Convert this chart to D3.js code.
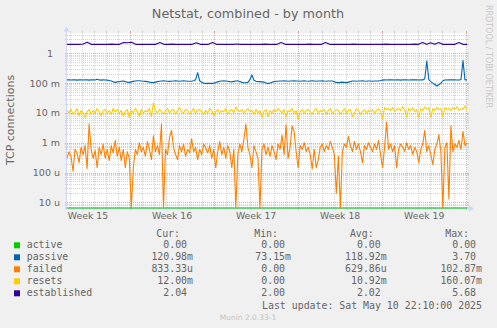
<!DOCTYPE html>
<html><head><meta charset="utf-8">
<script src="https://cdn.jsdelivr.net/npm/d3@7"></script>
<style>
body{margin:0;background:#f0f0f0}
svg{display:block}
text{font-family:"DejaVu Sans",sans-serif}
.mono{font-family:"DejaVu Sans Mono",monospace}
</style>
</head><body><svg id="c" width="497" height="328"></svg>
<script>
// ---------------- data ----------------
const chartTitle = "Netstat, combined - by month";
const yAxisTitle = "TCP connections";
const seriesNames = ["active", "passive", "failed", "resets", "established"];
const seriesColors = ["#00CC00", "#0066B3", "#FF8000", "#FFCC00", "#330099"];
const timeStart = "2025-04-08T18:05:00Z";
const timeEnd = "2025-05-12T01:31:00Z";

// active (units)
const active = [0,0,0,0,0,0,0,0,0,0,0,0,0,0,0,0,0,0,0,0,0,0,0,0,0,0,0,0,0,0,0,0,0,0];
// passive (milli)
const passiveMilli = [
128,128,127,128,128,126,128,128,127,128,
128,126,128,128,127,134,128,126,128,127,
126,122,118,110,106,110,112,116,118,112,
108,106,110,114,118,120,120,118,116,114,
112,108,106,104,108,112,116,118,120,118,
116,114,116,118,120,118,116,118,120,118,
116,115,116,120,130,223,120,106,100,98,
98,98,98,100,104,110,116,118,120,118,
116,112,110,114,118,120,112,106,103,103,
106,130,188,125,115,112,112,110,108,100,
98,100,106,112,115,116,118,117,119,118,
116,117,118,120,118,117,116,118,119,117,
116,118,120,118,116,117,118,119,117,116,
118,117,118,110,106,104,106,108,106,104,
108,112,117,118,116,117,118,119,117,116,
118,117,116,118,117,119,122,126,128,127,
128,129,128,127,128,128,126,128,129,128,
127,128,128,129,128,127,128,128,140,550,
130,112,100,90,80,88,100,120,128,127,
128,128,129,128,127,128,130,570,128,128];
// failed (micro)
const failedMicro = [
300,500,350,110,600,450,213,700,400,800,
135,4300,600,300,550,145,700,400,900,300,
600,250,800,450,1200,350,700,250,600,145,
500,300,0,145,600,400,1000,500,700,350,
1100,600,270,1720,500,800,400,4300,0,600,
400,1500,2600,700,400,270,800,500,900,350,
600,450,1360,500,700,270,600,400,900,680,
450,800,300,600,145,500,1100,400,700,300,
800,500,145,600,0,400,900,500,1300,4200,
700,400,145,800,500,300,0,600,900,400,
700,350,800,500,270,900,600,1800,400,4000,
300,700,3700,2400,500,145,800,600,1000,500,
700,400,131,600,145,270,700,900,500,800,
600,1100,700,400,20,350,0,500,900,700,
1630,800,500,1100,600,900,500,213,800,600,
1000,700,500,900,600,1200,400,145,700,4800,
600,900,500,800,145,600,900,700,500,1000,
600,800,400,700,500,213,600,900,2600,500,
800,400,183,600,900,1860,500,0,700,1000,
13,3700,500,900,700,1200,600,2400,800,1000];
// resets (milli)
const resetsMilli = [
12,10,13,9,11,14,8,12,10,7,
11,13,9,12,10,14,11,8,12,13,
10,12,9,14,11,13,10,12,8,11,
13,7,12,10,14,11,7.5,13,10,12,
11,14,7.5,22,12,10,13,11,9,12,
14,10,12,13,9,12,15,11,10,13,
12,9,11,14,10,12,13,11,9,12,
10,14,12,8,11,13,10,12,11,14,
9,12,13,10,16,12,11,13,10,12,
14,11,12,9,13,10,12,7,11,13,
7.5,12,10,13,11,14,12,10,13,7.5,
12,11,14,10,12,6,11,13,10,12,
13,11,9,12,14,10,12,11,13,9,
12,14,10,11,13,12,9,11,14,10,
12,13,7.5,10,14,12,9,11,13,10,
12,11,13,10,12,14,11,6.5,15,13,
14,12,15,11,13,14,12,16,13,7.5,
14,12,15,11,13,7,14,12,16,13,
15,7,14,12,15,13,14,7.5,15,13,
14,12,15,13,16,12,14,13,17,12];
// established (units)
const established = [
2.0,2.02,2.0,2.0,2.05,2.35,2.0,2.0,2.02,2.0,
2.0,2.03,2.0,2.0,2.3,2.25,2.35,2.0,2.0,2.02,
2.0,2.0,2.0,2.3,2.0,2.0,2.03,2.0,2.0,2.0,
2.02,2.0,2.25,2.0,2.0,2.0,2.3,2.0,2.0,2.02,
2.0,2.0,2.05,2.0,2.0,2.0,2.02,2.0,2.0,2.03,
2.0,2.0,2.0,2.3,2.0,2.0,2.02,2.0,2.0,2.0,
2.03,2.0,2.0,2.0,2.3,2.0,2.0,2.02,2.0,2.0,
2.0,2.03,2.0,2.0,2.0,2.02,2.0,2.0,2.0,2.03,
2.0,2.0,2.02,2.0,2.0,2.0,2.03,2.0,2.3,2.0,
2.25,2.0,2.3,2.0,2.0,2.02,2.0,2.3,2.0,2.0];

const yTickValues = [1e-5, 1e-4, 1e-3, 1e-2, 1e-1, 1];
const yTickLabels = ["10 u", "100 u", "1 m", "10 m", "100 m", "1"];
const weekLabels = ["Week 15", "Week 16", "Week 17", "Week 18", "Week 19"];
const weekCenters = ["2025-04-10T12:00:00Z", "2025-04-17T12:00:00Z", "2025-04-24T12:00:00Z", "2025-05-01T12:00:00Z", "2025-05-08T12:00:00Z"];

const legendHeaders = ["Cur:", "Min:", "Avg:", "Max:"];
const curValues = ["0.00", "120.98m", "833.33u", "12.00m", "2.04"];
const minValues = ["0.00", "73.15m", "0.00", "0.00", "2.00"];
const avgValues = ["0.00", "118.92m", "629.86u", "10.92m", "2.02"];
const maxValues = ["0.00", "3.70", "102.87m", "160.07m", "5.68"];
const lastUpdate = "Last update: Sat May 10 22:10:00 2025";
const footer = "Munin 2.0.33-1";
const watermark = "RRDTOOL / TOBI OETIKER";

// ---------------- drawing ----------------
const svg = d3.select("#c");
const L = 67, R = 467, T = 33, B = 208;
const t0 = new Date(timeStart), t1 = new Date(timeEnd);
const x = d3.scaleUtc().domain([t0, t1]).range([L, R]);
const y = d3.scaleLog().domain([6.44e-6, 4.8]).range([B, T]).clamp(true);
const fontCol = "#666666";

svg.append("rect").attr("width", 497).attr("height", 328).attr("fill", "#f0f0f0");
svg.append("rect").attr("x", L).attr("y", T).attr("width", R - L).attr("height", B - T).attr("fill", "#ffffff");

const minorCol = "#d4d4d4", majorCol = "#f2a4a4";
const g = svg.append("g");
// horizontal grid
const [ymin, ymax] = y.domain();
for (let k = -6; k <= 1; k++) {
  for (let m = 1; m <= 9; m++) {
    const v = m * Math.pow(10, k);
    if (v < ymin || v > ymax) continue;
    const yy = Math.round(y(v)) + 0.5;
    const col = m === 1 ? majorCol : minorCol;
    g.append("line").attr("x1", L).attr("x2", R).attr("y1", yy).attr("y2", yy)
      .attr("stroke", col).attr("stroke-dasharray", "1,1");
    g.append("line").attr("x1", L - 2).attr("x2", L).attr("y1", yy).attr("y2", yy).attr("stroke", col);
    g.append("line").attr("x1", R).attr("x2", R + 2).attr("y1", yy).attr("y2", yy).attr("stroke", col);
  }
}
// vertical grid
const days = d3.utcDay.range(t0, t1);
days.forEach(d => {
  const xx = Math.round(x(d)) + 0.5;
  const major = d.getUTCDay() === 1;
  const col = major ? majorCol : minorCol;
  g.append("line").attr("x1", xx).attr("x2", xx).attr("y1", T).attr("y2", B)
    .attr("stroke", col).attr("stroke-dasharray", "1,1");
  g.append("line").attr("x1", xx).attr("x2", xx).attr("y1", B).attr("y2", B + 2).attr("stroke", col);
  g.append("line").attr("x1", xx).attr("x2", xx).attr("y1", T - 2).attr("y2", T).attr("stroke", col);
});

// axes
const axisCol = "#CFD6F8";
svg.append("line").attr("x1", L - 0.5).attr("x2", L - 0.5).attr("y1", B + 2).attr("y2", T - 3).attr("stroke", axisCol);
svg.append("line").attr("x1", L - 2).attr("x2", R + 4).attr("y1", B + 0.5).attr("y2", B + 0.5).attr("stroke", axisCol);
svg.append("path").attr("d", `M${L - 3.5},${T - 1.5}L${L + 2.5},${T - 1.5}L${L - 0.5},${T - 6.5}Z`).attr("fill", axisCol);
svg.append("path").attr("d", `M${R + 2},${B - 2.5}L${R + 2},${B + 3.5}L${R + 7},${B + 0.5}Z`).attr("fill", axisCol);

// y tick labels
yTickValues.forEach((v, i) => {
  const lab = yTickLabels[i];
  const hasUnit = /[a-z]$/.test(lab);
  svg.append("text").attr("x", hasUnit ? 60 : 53).attr("y", y(v) + 3.5)
    .attr("text-anchor", "end").attr("font-size", 9.5).attr("fill", fontCol).text(lab);
});
// x labels
weekLabels.forEach((lab, i) => {
  svg.append("text").attr("x", x(new Date(weekCenters[i]))).attr("y", 219)
    .attr("text-anchor", "middle").attr("font-size", 9.3).attr("fill", fontCol).text(lab);
});

// series
function mkSeries(vals, unit) {
  const n = vals.length;
  return vals.map((v, i) => ({ t: new Date(+t0 + (t1 - t0) * i / (n - 1)), v: v * unit }));
}
const seriesData = [
  mkSeries(active, 1),
  mkSeries(passiveMilli, 1e-3),
  mkSeries(failedMicro, 1e-6),
  mkSeries(resetsMilli, 1e-3),
  mkSeries(established, 1)
];
svg.append("clipPath").attr("id", "pc").append("rect").attr("x", L).attr("y", T - 1).attr("width", R - L).attr("height", B - T + 2);
const line = d3.line().x(d => x(d.t)).y(d => d.v > 0 ? y(d.v) : B);
const sg = svg.append("g").attr("clip-path", "url(#pc)");
seriesData.forEach((s, i) => {
  sg.append("path").datum(s).attr("d", line).attr("fill", "none")
    .attr("stroke", seriesColors[i]).attr("stroke-width", 1.1).attr("stroke-linejoin", "round");
});

// title
svg.append("text").attr("x", 248).attr("y", 18.3).attr("text-anchor", "middle")
  .attr("font-size", 12.8).attr("fill", fontCol).text(chartTitle);
// y title
svg.append("text").attr("transform", "translate(14,120) rotate(-90)").attr("text-anchor", "middle")
  .attr("font-size", 11).attr("fill", fontCol).text(yAxisTitle);
// watermark
svg.append("text").attr("transform", "translate(485.5,5) rotate(90)").attr("text-anchor", "start")
  .attr("font-size", 8).attr("fill", "#c8c8c8").text(watermark);

// legend
const charW = 5.95;
const colEnds = [193, 291, 386.7, 482];
const fs = 9.9;
legendHeaders.forEach((h, j) => {
  svg.append("text").attr("class", "mono").attr("x", colEnds[j] - 13).attr("y", 237)
    .attr("text-anchor", "end").attr("font-size", fs).attr("fill", fontCol).text(h);
});
const cols = [curValues, minValues, avgValues, maxValues];
seriesNames.forEach((name, i) => {
  const by = 248.3 + 12 * i;
  svg.append("rect").attr("x", 14).attr("y", by - 6).attr("width", 6).attr("height", 6).attr("fill", seriesColors[i]);
  svg.append("text").attr("class", "mono").attr("x", 26.7).attr("y", by)
    .attr("font-size", fs).attr("fill", fontCol).text(name);
  cols.forEach((c, j) => {
    const s = c[i];
    const hasUnit = /[a-z]$/.test(s);
    svg.append("text").attr("class", "mono").attr("x", colEnds[j] - (hasUnit ? 0 : charW)).attr("y", by)
      .attr("text-anchor", "end").attr("font-size", fs).attr("fill", fontCol).text(s);
  });
});
svg.append("text").attr("class", "mono").attr("x", 482).attr("y", 308.7).attr("text-anchor", "end")
  .attr("font-size", fs).attr("fill", fontCol).text(lastUpdate);
svg.append("text").attr("x", 248).attr("y", 320).attr("text-anchor", "middle")
  .attr("font-size", 7.5).attr("fill", "#c4c4c4").text(footer);
</script>
</body></html>
